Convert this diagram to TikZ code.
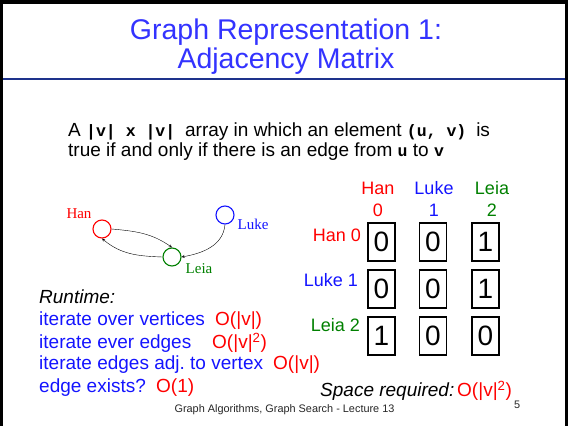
\documentclass[tikz,border=0pt]{standalone}
\usepackage{fontspec}
\setmainfont{Liberation Sans}
\setmonofont{Liberation Mono}
\newfontfamily\graphfont{Liberation Serif}
\definecolor{titleblue}{RGB}{51,51,255}
\definecolor{textblue}{RGB}{20,20,255}
\definecolor{costred}{RGB}{255,0,0}
\definecolor{leiagreen}{RGB}{0,128,0}
\definecolor{rulenavy}{RGB}{30,50,140}
\newcommand{\code}[1]{{\ttfamily\bfseries\fontsize{16.5}{20}\selectfont #1}}
\begin{document}
\begin{tikzpicture}[x=1pt,y=1pt,>=stealth,
    txt/.style={anchor=base west,inner sep=0pt},
    body/.style={txt,font=\fontsize{19}{22}\selectfont},
    head/.style={anchor=base,inner sep=0pt,font=\fontsize{18}{20}\selectfont},
    rowlbl/.style={anchor=base east,inner sep=0pt,font=\fontsize{18}{20}\selectfont},
    cell/.style={draw,line width=1.1pt,minimum width=27pt,minimum height=38pt,inner sep=0pt,font=\fontsize{28}{28}\selectfont},
    vertex/.style={circle,draw,line width=1.1pt,minimum size=18pt,inner sep=0pt},
    vlbl/.style={inner sep=0pt,font=\graphfont\fontsize{15}{15}\selectfont},
    titletxt/.style={anchor=base,inner sep=0pt,titleblue,font=\fontsize{28.5}{30}\selectfont}]
  \useasboundingbox (0,0) rectangle (568,426);
  % slide frame and title rule
  \draw[line width=4pt] (0,424) -- (568,424);
  \draw[line width=3pt] (1.5,0) -- (1.5,426) (566.5,0) -- (566.5,426);
  \draw[rulenavy,line width=1.5pt] (3,347) -- (565,347);
  \node (title1) [titletxt] at (286,386) {Graph Representation 1:};
  \node (title2) [titletxt] at (286,357) {Adjacency Matrix};
  % definition
  \node (def1) [body] at (68,289) {A \code{|v| x |v| }array in which an element \code{(u, v) }is};
  \node (def2) [body] at (68,269) {true if and only if there is an edge from \code{u} to \code{v}};
  % small graph
  \node (han)  [vertex,costred]   at (102,197) {};
  \node (luke) [vertex,textblue]  at (225,211) {};
  \node (leia) [vertex,leiagreen] at (172,169) {};
  \node (hanlbl)  [vlbl,costred]   at (79,212)  {Han};
  \node (lukelbl) [vlbl,textblue]  at (253,202) {Luke};
  \node (leialbl) [vlbl,leiagreen] at (199,157) {Leia};
  \draw[->,thin] (han.east) to[out=-5,in=145] (leia.north);
  \draw[->,thin] (leia.west) to[out=178,in=-40] (han.south);
  \draw[->,thin] (luke.south) to[out=-95,in=10] (leia.east);
  % matrix headers
  \node (colhan)  [head,costred]   at (378,231) {Han};
  \node (colhann) [head,costred]   at (378,209) {0};
  \node (colluke) [head,textblue]  at (434,231) {Luke};
  \node (collukn) [head,textblue]  at (434,209) {1};
  \node (colleia) [head,leiagreen] at (492,231) {Leia};
  \node (colleian)[head,leiagreen] at (492,209) {2};
  \node (rowhan)  [rowlbl,costred]   at (361,184) {Han 0};
  \node (rowluke) [rowlbl,textblue]  at (358,139) {Luke 1};
  \node (rowleia) [rowlbl,leiagreen] at (360,94)  {Leia 2};
  % matrix cells
  \node (m00) [cell] at (381.5,184) {0};
  \node (m01) [cell] at (433,184)   {0};
  \node (m02) [cell] at (485.5,184) {1};
  \node (m10) [cell] at (381.5,137) {0};
  \node (m11) [cell] at (433,137)   {0};
  \node (m12) [cell] at (485.5,137) {1};
  \node (m20) [cell] at (381.5,90)  {1};
  \node (m21) [cell] at (433,90)    {0};
  \node (m22) [cell] at (485.5,90)  {0};
  % runtime
  \node (rt)  [body,font=\fontsize{19}{22}\itshape] at (39,122) {Runtime:};
  \node (rt1) [body,textblue] at (39,100) {iterate over vertices};
  \node (rt1c)[body,costred]  at (215,100) {O(|v|)};
  \node (rt2) [body,textblue] at (39,77) {iterate ever edges};
  \node (rt2c)[body,costred]  at (212,77) {O(|v|\textsuperscript{2})};
  \node (rt3) [body,textblue] at (39,56) {iterate edges adj.\ to vertex};
  \node (rt3c)[body,costred]  at (273,56) {O(|v|)};
  \node (rt4) [body,textblue] at (39,34) {edge exists?};
  \node (rt4c)[body,costred]  at (156,34) {O(1)};
  \node (space)  [body,font=\fontsize{19}{22}\itshape] at (320,29) {Space required:};
  \node (spacec) [body,costred] at (457,29) {O(|v|\textsuperscript{2})};
  % footer
  \node (foot) [anchor=base,inner sep=0pt,font=\fontsize{10.9}{11}\selectfont,black!85] at (284.5,13) {Graph Algorithms, Graph Search - Lecture 13};
  \node (page) [txt,font=\fontsize{10.9}{11}\selectfont,black!85] at (514,17) {5};
\end{tikzpicture}
\end{document}
